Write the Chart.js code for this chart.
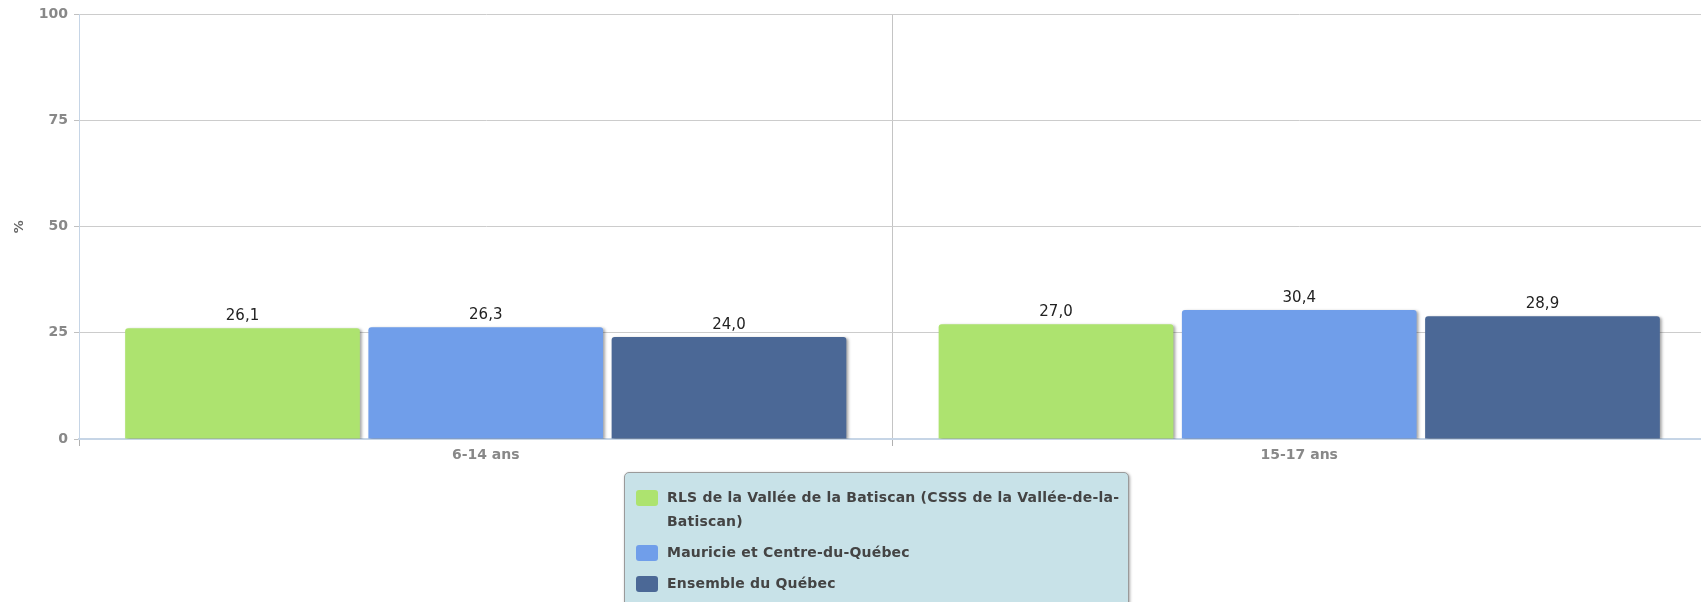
<!DOCTYPE html>
<html>
<head>
<meta charset="utf-8">
<script src="https://cdn.jsdelivr.net/npm/chart.js@4/dist/chart.umd.min.js"></script>
<style>
  html, body { margin: 0; padding: 0; background: #ffffff; overflow: hidden; }
  #wrap { position: relative; width: 1701px; height: 602px; overflow: hidden; }
  #c { position: absolute; left: 0; top: 0; }
  #legend {
    position: absolute; left: 624px; top: 472px; width: 505px; height: 140px;
    box-sizing: border-box; background: #c8e2e8; border: 1px solid #9a9a9a; border-radius: 5px;
    box-shadow: 1px 1px 3px rgba(0,0,0,0.35);
    padding: 14px 4px 0 11px;
    font: bold 14px "DejaVu Sans", Verdana, sans-serif; color: #444; letter-spacing: 0.2px;
  }
  .item { display: flex; align-items: flex-start; margin-bottom: 9px; }
  .sw { width: 22px; height: 16px; border-radius: 3px; flex: 0 0 22px; margin-top: 3px; margin-right: 9px; }
  .txt { line-height: 24px; width: 464px; margin-top: -2px; }
</style>
</head>
<body>
<div id="wrap">
  <canvas id="c" width="1706" height="602"></canvas>
  <div id="legend"></div>
</div>
<script>
const categories = ["6-14 ans", "15-17 ans"];
const seriesNames = [
  "RLS de la Vallée de la Batiscan (CSSS de la Vallée-de-la-Batiscan)",
  "Mauricie et Centre-du-Québec",
  "Ensemble du Québec"
];
const rlsValues = [26.1, 27.0];
const regionValues = [26.3, 30.4];
const quebecValues = [24.0, 28.9];
const yTicks = [0, 25, 50, 75, 100];
const seriesColors = ["#ade36f", "#709eea", "#4b6896"];

const seriesValues = [rlsValues, regionValues, quebecValues];
const datasets = seriesNames.map((name, i) => ({
  label: name,
  data: seriesValues[i],
  backgroundColor: seriesColors[i],
  borderWidth: 0,
  borderRadius: { topLeft: 3, topRight: 3, bottomLeft: 0, bottomRight: 0 },
  borderSkipped: false,
  categoryPercentage: 0.897,
  barPercentage: 0.965
}));

const shadowPlugin = {
  id: 'barShadow',
  beforeDatasetDraw(chart) {
    const ctx = chart.ctx;
    ctx.save();
    ctx.shadowColor = 'rgba(0,0,0,0.35)';
    ctx.shadowOffsetX = 2;
    ctx.shadowOffsetY = 1;
    ctx.shadowBlur = 3;
  },
  afterDatasetDraw(chart) {
    chart.ctx.restore();
  }
};

const labelPlugin = {
  id: 'valueLabels',
  afterDatasetsDraw(chart) {
    const ctx = chart.ctx;
    ctx.save();
    ctx.font = '15px "DejaVu Sans", Verdana, sans-serif';
    ctx.fillStyle = '#222';
    ctx.textAlign = 'center';
    ctx.textBaseline = 'alphabetic';
    chart.data.datasets.forEach((ds, di) => {
      const meta = chart.getDatasetMeta(di);
      meta.data.forEach((bar, i) => {
        const v = ds.data[i];
        ctx.fillText(v.toFixed(1).replace('.', ','), bar.x, bar.y - 8);
      });
    });
    ctx.restore();
  }
};

new Chart(document.getElementById('c'), {
  type: 'bar',
  data: { labels: categories, datasets },
  plugins: [shadowPlugin, labelPlugin],
  options: {
    responsive: false,
    devicePixelRatio: 1,
    animation: false,
    layout: { padding: { top: 12, right: 0, left: 0, bottom: 0 } },
    plugins: { legend: { display: false }, tooltip: { enabled: false } },
    scales: {
      x: {
        afterFit(scale) { scale.height = 163; },
        grid: { color: '#c4c4c4', offset: true, drawTicks: true, tickLength: 7, tickColor: '#b0b0b0' },
        border: { color: '#c6d5e6', width: 2 },
        ticks: {
          padding: 1,
          color: '#888',
          font: { family: '"DejaVu Sans", Verdana, sans-serif', size: 14, weight: 'bold' }
        }
      },
      y: {
        min: 0, max: 100,
        afterFit(scale) { scale.width = 79; },
        afterBuildTicks(scale) { scale.ticks = yTicks.map(v => ({ value: v })); },
        grid: { color: '#cccccc', drawTicks: true, tickLength: 5, tickColor: '#c0c0c0' },
        border: { color: '#c6d5e6', width: 1 },
        ticks: {
          padding: 6,
          color: '#888',
          font: { family: '"DejaVu Sans", Verdana, sans-serif', size: 14, weight: 'bold' }
        },
        title: {
          display: true, text: '%', color: '#666', padding: { top: 12, bottom: 4 },
          font: { family: '"DejaVu Sans", Verdana, sans-serif', size: 13, weight: 'bold' }
        }
      }
    }
  }
});

const legend = document.getElementById('legend');
seriesNames.forEach((name, i) => {
  const item = document.createElement('div');
  item.className = 'item';
  const sw = document.createElement('span');
  sw.className = 'sw';
  sw.style.background = seriesColors[i];
  const t = document.createElement('span');
  t.className = 'txt';
  t.textContent = name;
  item.appendChild(sw); item.appendChild(t);
  legend.appendChild(item);
});
</script>
</body>
</html>
